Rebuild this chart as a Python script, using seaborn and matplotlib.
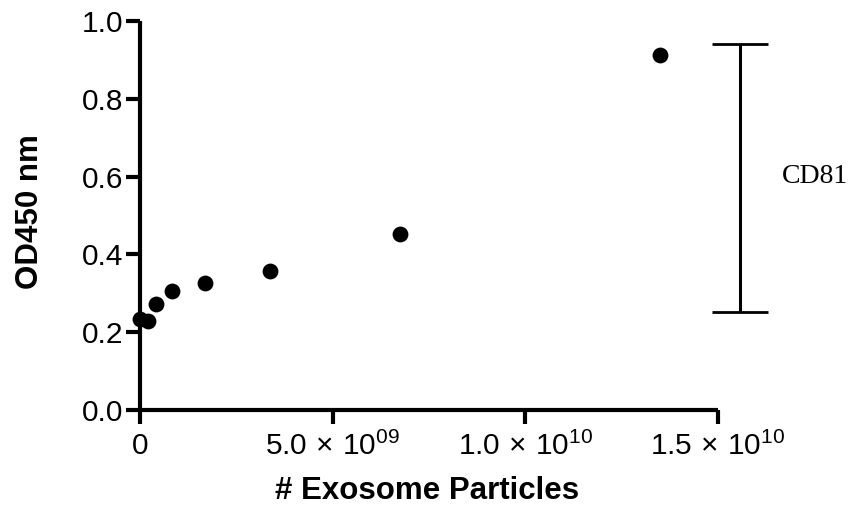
import numpy as np
import pandas as pd
import matplotlib
matplotlib.use("Agg")
import matplotlib.pyplot as plt
import seaborn as sns

# Data
particles = [0, 2.1e8, 4.2e8, 8.4e8, 1.69e9, 3.375e9, 6.75e9, 1.35e10]
od450 = [0.235, 0.229, 0.272, 0.306, 0.327, 0.357, 0.452, 0.913]
x_ticks = [0, 5e9, 1e10, 1.5e10]
x_tick_labels = ["0", r"5.0$\,\times\,$10$^{09}$", r"1.0$\,\times\,$10$^{10}$", r"1.5$\,\times\,$10$^{10}$"]
y_ticks = [0.0, 0.2, 0.4, 0.6, 0.8, 1.0]
y_tick_labels = ["0.0", "0.2", "0.4", "0.6", "0.8", "1.0"]
bracket_label = "CD81"
bracket_range = [0.252, 0.941]

df = pd.DataFrame({"particles": particles, "od": od450})

sns.set_style("ticks")
plt.rcParams["font.family"] = ["Liberation Sans", "DejaVu Sans"]
plt.rcParams["mathtext.fontset"] = "custom"
plt.rcParams["mathtext.rm"] = "Liberation Sans"
plt.rcParams["mathtext.it"] = "Liberation Sans:italic"
plt.rcParams["mathtext.bf"] = "Liberation Sans:bold"
for key in ["text.color", "axes.labelcolor", "xtick.color", "ytick.color", "axes.edgecolor"]:
    plt.rcParams[key] = "black"

fig = plt.figure(figsize=(8.6, 5.17), dpi=100)
ax = fig.add_axes([0.1628, 0.207, 0.6721, 0.7524])

sns.scatterplot(data=df, x="particles", y="od", color="black", s=130,
                edgecolor="black", linewidth=0, ax=ax, clip_on=False, zorder=3)

ax.set_xlim(0, 1.5e10)
ax.set_ylim(0, 1.0)
ax.set_xticks(x_ticks)
ax.set_xticklabels(x_tick_labels)
ax.set_yticks(y_ticks)
ax.set_yticklabels(y_tick_labels)

for side in ["top", "right"]:
    ax.spines[side].set_visible(False)
for side in ["left", "bottom"]:
    ax.spines[side].set_linewidth(3)
    ax.spines[side].set_capstyle("butt")
ax.tick_params(axis="both", direction="out", length=10, width=3, labelsize=21.5)
ax.tick_params(axis="y", pad=2)
ax.tick_params(axis="x", pad=5.5)

ax.set_xlabel("# Exosome Particles", fontsize=22.5, fontweight="bold")
ax.set_ylabel("OD450 nm", fontsize=22.5, fontweight="bold")
ax.xaxis.set_label_coords(0.497, -0.208)
ax.yaxis.set_label_coords(-0.19, 0.51)
ax.xaxis.label.set_va("center")
ax.yaxis.label.set_va("center")

# bracket on the right side, drawn outside the axes
trans = ax.get_yaxis_transform()
bx = 1.0 + (740 - 718) / 578.0
cap = 28 / 578.0
ax.plot([bx, bx], bracket_range, color="black", lw=2.2, transform=trans,
        clip_on=False, solid_capstyle="butt")
for yv in bracket_range:
    ax.plot([bx - cap, bx + cap], [yv, yv], color="black", lw=2.0,
            transform=trans, clip_on=False, solid_capstyle="butt")
ax.text(bx + cap + 14 / 578.0, 0.599, bracket_label,
        transform=trans, fontsize=20, family="Liberation Serif", va="center", ha="left")

fig.savefig("out.png", dpi=100)
